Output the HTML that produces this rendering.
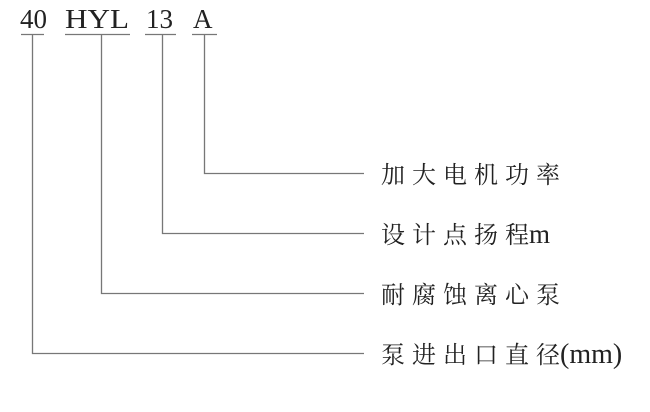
<!DOCTYPE html>
<html><head><meta charset="utf-8"><style>
body{margin:0;background:#fff}
svg text{font-family:"Liberation Serif","Noto Serif CJK SC",serif;fill:#222}
</style></head><body>
<svg width="650" height="407" xmlns="http://www.w3.org/2000/svg">
<g font-size="27">
<text x="20" y="28">40</text>
<text x="65" y="28" textLength="64" lengthAdjust="spacingAndGlyphs">HYL</text>
<text x="146" y="28">13</text>
<text x="193" y="28">A</text>
</g>
<g stroke="#777" stroke-width="1.3" fill="none">
<line x1="21" y1="34.5" x2="44" y2="34.5"/>
<line x1="65" y1="34.5" x2="130" y2="34.5"/>
<line x1="145" y1="34.5" x2="176" y2="34.5"/>
<line x1="192" y1="34.5" x2="217" y2="34.5"/>
<polyline points="204.5,35 204.5,173.5 364,173.5"/>
<polyline points="162.5,35 162.5,233.5 364,233.5"/>
<polyline points="101.5,35 101.5,293.5 364,293.5"/>
<polyline points="32.5,35 32.5,353.5 364,353.5"/>
</g>
<g font-size="24">
<text x="381" y="183"><tspan letter-spacing="7">加大电机功</tspan>率</text>
<text x="381" y="243"><tspan letter-spacing="7">设计点扬</tspan>程<tspan font-size="27">m</tspan></text>
<text x="381" y="303"><tspan letter-spacing="7">耐腐蚀离心</tspan>泵</text>
<text x="381" y="363"><tspan letter-spacing="7">泵进出口直</tspan>径<tspan font-size="28">(mm)</tspan></text>
</g>
</svg>
</body></html>
